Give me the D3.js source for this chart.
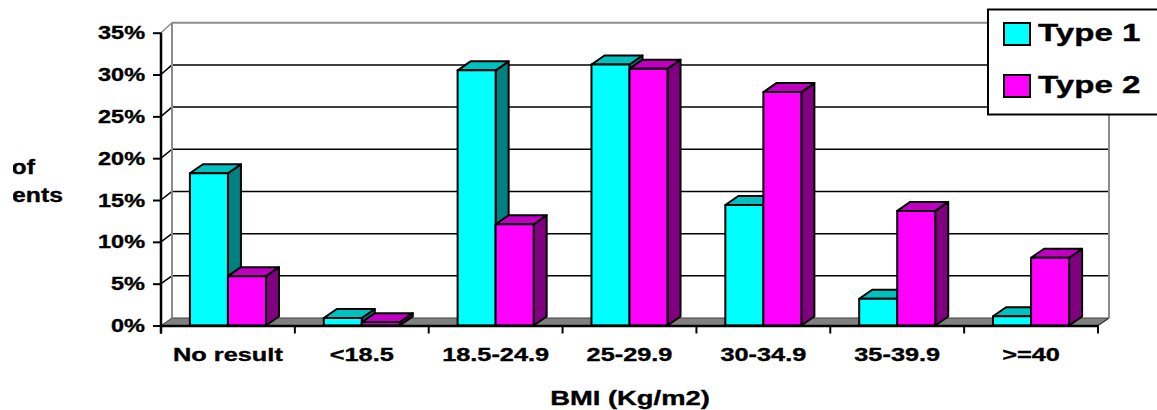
<!DOCTYPE html>
<html lang="en">
<head>
    <meta charset="UTF-8">
    <title>BMI by diabetes type</title>
    <script src="https://cdnjs.cloudflare.com/ajax/libs/d3/7.8.5/d3.min.js"></script>
    <style>
        body { margin: 0; background: #fff; }
        svg text { font-family: "Liberation Sans", Arial, sans-serif; font-weight: bold; fill: #000; stroke: #000; stroke-width: 0.35px; }
    </style>
</head>
<body>
    <svg id="main" width="1157" height="410"></svg>

    <script>
        // data (percent of patients)
        let categories = ["No result", "<18.5", "18.5-24.9", "25-29.9", "30-34.9", "35-39.9", ">=40"];
        let series = ["Type 1", "Type 2"];
        let type1 = [18.2, 0.9, 30.5, 31.2, 14.4, 3.2, 1.1];
        let type2 = [5.9, 0.4, 12.1, 30.7, 27.9, 13.7, 8.1];
        let yTicks = [0, 5, 10, 15, 20, 25, 30, 35];

        let fronts = ["#00ffff", "#ff00ff"];
        let tops = ["#00c0c0", "#c000c0"];
        let sides = ["#008080", "#800080"];

        let svg = d3.select("#main");

        // front plane and back wall scales
        let x = d3.scaleBand().domain(categories).range([161, 1098]);
        let y = d3.scaleLinear().domain([0, 35]).range([325.5, 32.7]);
        let yBack = d3.scaleLinear().domain([0, 35]).range([318, 22.7]);
        let wallDx = 11;
        let bar = d3.scaleBand().domain(series).range([0, x.bandwidth()]).paddingOuter(0.76);
        let depthX = 13, depthY = -9;

        // stretched text like the original
        function stext(g, px, py, txt, size, sx, anchor) {
            return g.append("text")
                .attr("transform", `translate(${px},${py}) scale(${sx},1)`)
                .attr("text-anchor", anchor)
                .style("font-size", size + "px")
                .text(txt);
        }

        let x0 = x.range()[0], x1 = x.range()[1];

        // floor
        svg.append("path")
            .attr("d", `M${x0},${y(0)} L${x1},${y(0)} L${x1 + wallDx},${yBack(0)} L${x0 + wallDx},${yBack(0)} Z`)
            .attr("fill", "#808080")
            .attr("stroke", "#404040")
            .attr("stroke-width", 1);

        // back wall gridlines + side wall diagonals
        yTicks.slice(1).forEach(t => {
            let col = t === 35 ? "#8c8c8c" : "#000";
            svg.append("line")
                .attr("x1", x0 + wallDx).attr("x2", x1 + wallDx)
                .attr("y1", yBack(t)).attr("y2", yBack(t))
                .attr("stroke", col).attr("stroke-width", t === 35 ? 2 : 1.5);
            svg.append("line")
                .attr("x1", x0).attr("x2", x0 + wallDx)
                .attr("y1", y(t)).attr("y2", yBack(t))
                .attr("stroke", col).attr("stroke-width", 1.5);
        });
        // wall edges
        [x0 + wallDx, x1 + wallDx].forEach(wx => {
            svg.append("line")
                .attr("x1", wx).attr("x2", wx)
                .attr("y1", yBack(35)).attr("y2", yBack(0))
                .attr("stroke", "#8c8c8c").attr("stroke-width", 2);
        });
        svg.append("line")
            .attr("x1", x1).attr("x2", x1 + wallDx)
            .attr("y1", y(0)).attr("y2", yBack(0))
            .attr("stroke", "#404040").attr("stroke-width", 1.5);

        // bars, drawn category by category so faces overlap correctly
        categories.forEach((c, i) => {
            [type1[i], type2[i]].forEach((v, s) => {
                let bx = x(c) + bar(series[s]);
                let bw = bar.bandwidth();
                let top = y(v), base = y(0);
                let g = svg.append("g")
                    .attr("stroke", "#000")
                    .attr("stroke-width", 2)
                    .attr("stroke-linejoin", "round");
                g.append("path")
                    .attr("d", `M${bx + bw},${base} L${bx + bw + depthX},${base + depthY} L${bx + bw + depthX},${top + depthY} L${bx + bw},${top} Z`)
                    .attr("fill", sides[s]);
                g.append("path")
                    .attr("d", `M${bx},${top} L${bx + depthX},${top + depthY} L${bx + bw + depthX},${top + depthY} L${bx + bw},${top} Z`)
                    .attr("fill", tops[s]);
                g.append("rect")
                    .attr("x", bx).attr("y", top)
                    .attr("width", bw).attr("height", base - top)
                    .attr("fill", fronts[s]);
            });
        });

        // y axis
        let yAxis = svg.append("g")
            .attr("transform", `translate(${x0},0)`)
            .call(d3.axisLeft(y).tickValues(yTicks).tickSize(8).tickFormat(""));
        yAxis.select(".domain").attr("d", `M0,${y(35)} V${y(0) + 8}`).attr("stroke-width", 2.5);
        yAxis.selectAll(".tick line").attr("stroke-width", 2);
        yTicks.forEach(t => stext(svg, 145, y(t) + 6.5, t + "%", 18.5, 1.27, "end"));

        // x axis
        let xAxis = svg.append("g")
            .attr("transform", `translate(0,${y(0)})`)
            .call(d3.axisBottom(x).tickSize(0).tickFormat(""));
        xAxis.select(".domain").attr("stroke-width", 2.5);
        x.domain().concat(["end"]).forEach((c, i) => {
            let tx = x0 + i * x.step();
            svg.append("line")
                .attr("x1", tx).attr("x2", tx)
                .attr("y1", y(0)).attr("y2", y(0) + 8)
                .attr("stroke", "#000").attr("stroke-width", 2);
        });
        categories.forEach(c => stext(svg, x(c) + x.bandwidth() / 2, 360.5, c, 18.5, 1.37, "middle"));

        // axis titles; the y title is clipped on the left, as in the original
        stext(svg, 630, 405, "BMI (Kg/m2)", 20, 1.37, "middle");
        svg.append("clipPath").attr("id", "ytclip")
            .append("rect").attr("x", 13).attr("y", 0).attr("width", 140).attr("height", 410);
        let ytitle = svg.append("g").attr("clip-path", "url(#ytclip)");
        stext(ytitle, 35, 174, "% of", 21, 1.18, "end");
        stext(ytitle, 63, 202, "patients", 21, 1.18, "end");

        // legend
        let legend = svg.append("g");
        legend.append("rect")
            .attr("x", 988).attr("y", 9.5)
            .attr("width", 200).attr("height", 105)
            .attr("fill", "#fff").attr("stroke", "#000").attr("stroke-width", 2);
        series.forEach((s, i) => {
            let ly = 23 + i * 52;
            legend.append("rect")
                .attr("x", 1004).attr("y", ly)
                .attr("width", 26).attr("height", 22)
                .attr("fill", fronts[i]).attr("stroke", "#000").attr("stroke-width", 2);
            stext(legend, 1038, ly + 18, s, 24, 1.38, "start");
        });
    </script>
</body>
</html>
